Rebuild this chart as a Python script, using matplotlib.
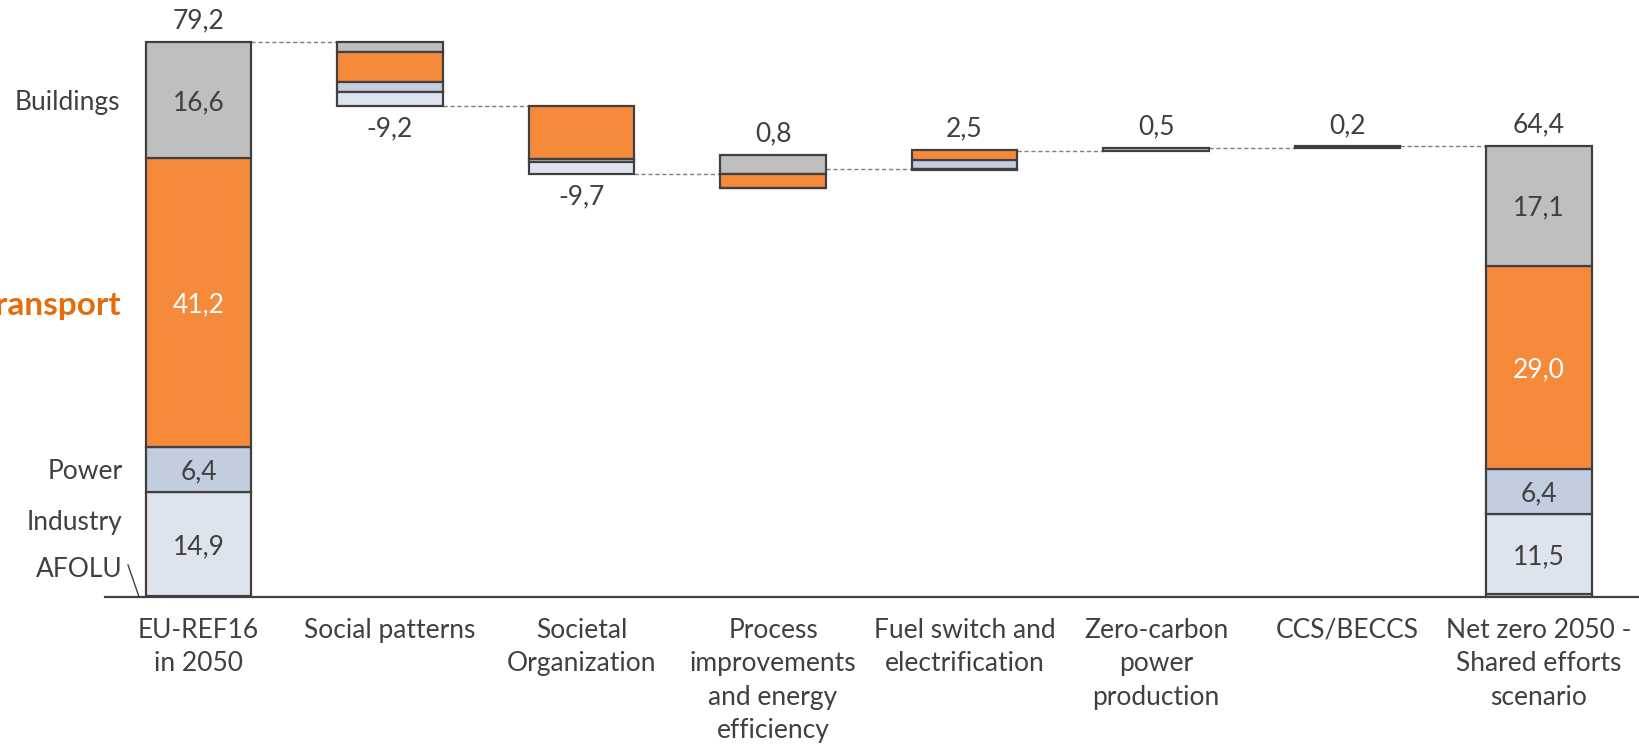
import numpy as np
import matplotlib
matplotlib.use("Agg")
import matplotlib.pyplot as plt

plt.rcParams['font.family'] = ['Lato', 'DejaVu Sans']

# sector order, bottom to top of a stacked bar
sectors = ['AFOLU', 'Industry', 'Power', 'Transport', 'Buildings']
colors = {'AFOLU': '#DDE3EE', 'Industry': '#DEE4EE', 'Power': '#C2CDDF',
          'Transport': '#F68A3B', 'Buildings': '#BFBFBF'}

categories = ['EU-REF16\nin 2050', 'Social patterns', 'Societal\nOrganization',
              'Process\nimprovements\nand energy\nefficiency',
              'Fuel switch and\nelectrification', 'Zero-carbon\npower\nproduction',
              'CCS/BECCS', 'Net zero 2050 -\nShared efforts\nscenario']

# 2050 reference emissions by sector
ref_2050 = [0.1, 14.9, 6.4, 41.2, 16.6]
# net zero 2050, shared efforts
netzero_2050 = [0.4, 11.5, 6.4, 29.0, 17.1]
# change by lever, per sector (AFOLU, Industry, Power, Transport, Buildings)
social_patterns = [0.0, -2.1, -1.4, -4.3, -1.4]
societal_org = [0.0, -1.8, -0.4, -7.5, 0.0]
process_eff = [0.0, 0.0, -0.1, -1.9, 2.8]
fuel_switch = [0.0, 0.0, 1.3, 1.4, -0.2]
zero_carbon = [0.0, 0.0, 0.5, 0.0, 0.0]
ccs_beccs = [0.2, 0.0, 0.0, 0.0, 0.0]

steps = [social_patterns, societal_org, process_eff, fuel_switch, zero_carbon, ccs_beccs]

TXT = '#404040'
EDGE = '#404040'
W = 0.55
FS = 19


def fmt(v):
    return f'{v:.1f}'.replace('.', ',').replace('-0,0', '0,0')


fig = plt.figure(figsize=(16.39, 7.46), dpi=100)
ax = fig.add_axes([0, 0.1997, 1, 0.8003])
ax.set_xlim(-1.0366, 7.522)
ax.set_ylim(0, 85.19)
ax.axis('off')


def stacked_total(x, vals, inner_labels):
    bottom = 0.0
    for s, v in zip(sectors, vals):
        ax.bar(x, v, W, bottom=bottom, color=colors[s], edgecolor=EDGE, linewidth=1.6, zorder=3)
        if inner_labels and v > 3:
            c = 'white' if s == 'Transport' else TXT
            ax.text(x, bottom + v / 2, fmt(v), ha='center', va='center_baseline',
                    fontsize=FS, color=c, zorder=4)
        bottom += v
    return bottom


# first bar
level = stacked_total(0, ref_2050, True)
ax.annotate(fmt(sum(ref_2050)), (0, level), xytext=(0, 6), textcoords='offset points',
            ha='center', va='bottom', fontsize=FS, color=TXT)
levels = [level]

# lever bars: rises stack up from the previous level, cuts stack down from it
for i, step in enumerate(steps, start=1):
    up = level
    for s, v in zip(sectors, step):
        if v > 0:
            ax.bar(i, v, W, bottom=up, color=colors[s], edgecolor=EDGE, linewidth=1.6, zorder=3)
            up += v
    down = level
    for s, v in zip(sectors[::-1], step[::-1]):
        if v < 0:
            ax.bar(i, v, W, bottom=down, color=colors[s], edgecolor=EDGE, linewidth=1.6, zorder=3)
            down += v
    net = sum(step)
    if net < 0:
        ax.annotate(fmt(net), (i, down), xytext=(0, -7), textcoords='offset points',
                    ha='center', va='top', fontsize=FS, color=TXT)
    else:
        ax.annotate(fmt(net), (i, up), xytext=(0, 6), textcoords='offset points',
                    ha='center', va='bottom', fontsize=FS, color=TXT)
    level = level + net
    levels.append(level)

# final bar
n = len(categories) - 1
top = stacked_total(n, netzero_2050, True)
ax.annotate(fmt(sum(netzero_2050)), (n, top), xytext=(0, 6), textcoords='offset points',
            ha='center', va='bottom', fontsize=FS, color=TXT)

# dashed connectors between bars
for i, lv in enumerate(levels):
    ax.plot([i + W / 2, i + 1 - W / 2], [lv, lv], ls=(0, (3, 2)), color='#7F7F7F', lw=1.0, zorder=2)

# baseline
ax.plot([-0.49, 7.522], [0, 0], color=EDGE, lw=1.6, zorder=4, clip_on=False)

# category names under the axis
for i, c in enumerate(categories):
    ax.annotate(c, (i, 0), xytext=(0, -15), textcoords='offset points', ha='center', va='top',
                fontsize=FS, color=TXT, linespacing=1.42)

# sector names beside the first bar
lx = -0.398
ax.text(lx - 0.01, 70.9, 'Buildings', ha='right', va='center_baseline', fontsize=FS, color=TXT)
ax.text(lx - 0.005, 41.9, 'Transport', ha='right', va='center_baseline', fontsize=24,
        color='#E46C0A', fontweight='bold')
ax.text(lx, 18.2, 'Power', ha='right', va='center_baseline', fontsize=FS, color=TXT)
ax.text(lx, 11.0, 'Industry', ha='right', va='center_baseline', fontsize=FS, color=TXT)
ax.text(lx, 4.3, 'AFOLU', ha='right', va='center_baseline', fontsize=FS, color=TXT)
ax.plot([-0.368, -0.311], [4.57, 0.05], color=EDGE, lw=1.0)

fig.savefig('out.png', dpi=100)
